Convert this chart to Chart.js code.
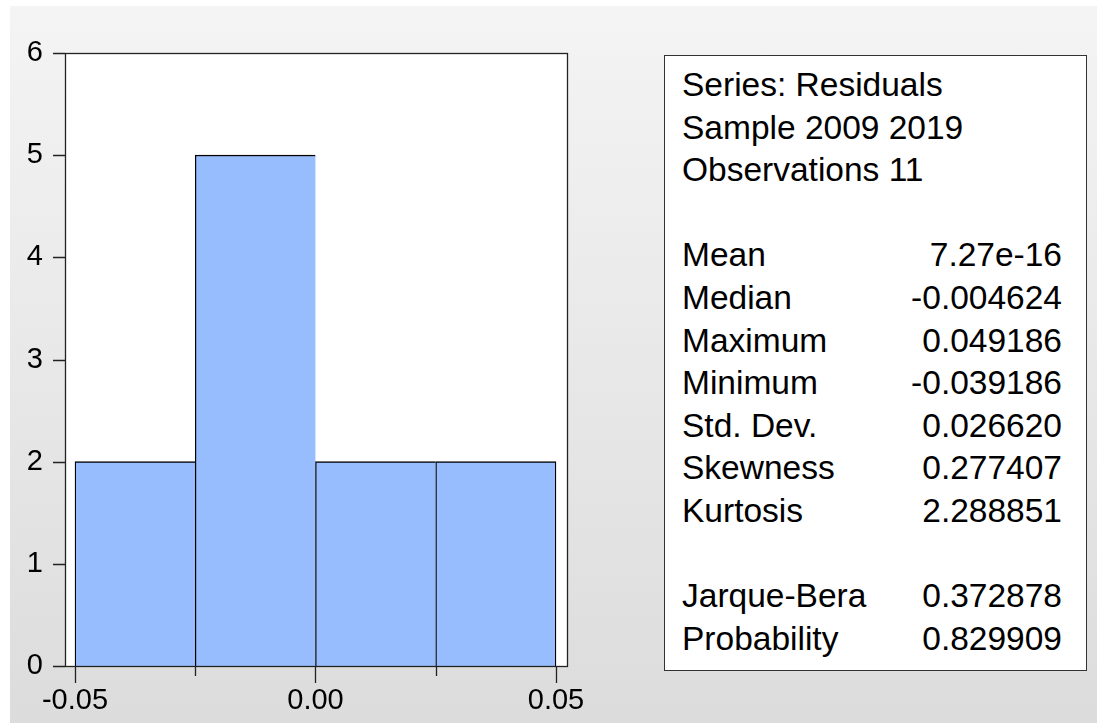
<!DOCTYPE html>
<html>
<head>
<meta charset="utf-8">
<script src="https://cdn.jsdelivr.net/npm/chart.js@4/dist/chart.umd.min.js"></script>
<style>
  html, body { margin: 0; padding: 0; background: #fff; }
  body { width: 1097px; height: 723px; position: relative; overflow: hidden; font-family: "Liberation Sans", Arial, sans-serif; }
  #panel { position: absolute; left: 10px; top: 6px; right: 0; bottom: 0; background: linear-gradient(#f4f4f4, #dcdcdc); }
  #chartWrap { position: absolute; left: 0; top: 0; width: 1097px; height: 723px; }
  #stats {
    position: absolute; left: 664px; top: 55px; width: 423px; height: 616px;
    box-sizing: border-box; border: 1px solid #333; background: #fff;
    padding: 8px 24px 0 17px; font-size: 33.5px; line-height: 42.6px; color: #000;
  }
  #stats .row { display: flex; justify-content: space-between; height: 42.6px; white-space: nowrap; }
</style>
</head>
<body>
<div id="panel"></div>
<div id="chartWrap"><canvas id="histChart"></canvas></div>
<div id="stats"></div>

<script>
// ==================== DATA ====================
const binCenters = [-0.0375, -0.0125, 0.0125, 0.0375];
const binCounts = [2, 5, 2, 2];
const xTickValues = [-0.05, 0.00, 0.05];
const xMinorTicks = [-0.025, 0.025];
const yMax = 6;

const headerLines = ['Series: Residuals', 'Sample 2009 2019', 'Observations 11'];
const statNames = ['Mean', 'Median', 'Maximum', 'Minimum', 'Std. Dev.', 'Skewness', 'Kurtosis'];
const statValues = ['7.27e-16', '-0.004624', '0.049186', '-0.039186', '0.026620', '0.277407', '2.288851'];
const testNames = ['Jarque-Bera', 'Probability'];
const testValues = ['0.372878', '0.829909'];

const FONT = "'Liberation Sans', Arial, sans-serif";

// ==================== STATS BOX ====================
function addRow(box, left, right) {
  const row = document.createElement('div');
  row.className = 'row';
  const a = document.createElement('span');
  a.textContent = left;
  const b = document.createElement('span');
  b.textContent = right;
  row.appendChild(a);
  row.appendChild(b);
  box.appendChild(row);
}

function buildStats() {
  const box = document.getElementById('stats');
  headerLines.forEach(line => addRow(box, line, ''));
  addRow(box, '', '');
  statNames.forEach((name, i) => addRow(box, name, statValues[i]));
  addRow(box, '', '');
  testNames.forEach((name, i) => addRow(box, name, testValues[i]));
}

// ==================== CHART ====================
const frameAndTicks = {
  id: 'frameAndTicks',
  beforeDraw(chart) {
    const { ctx, chartArea: a } = chart;
    ctx.save();
    ctx.fillStyle = '#fff';
    ctx.fillRect(a.left, a.top, a.right - a.left, a.bottom - a.top);
    ctx.restore();
  },
  afterDraw(chart) {
    const { ctx, chartArea: a, scales } = chart;
    const x = scales.x, y = scales.y;
    ctx.save();
    ctx.strokeStyle = '#222';
    ctx.lineWidth = 1.3;
    ctx.strokeRect(a.left + 0.5, a.top + 0.5, a.right - a.left, a.bottom - a.top);
    ctx.beginPath();
    y.ticks.forEach(t => {
      const py = Math.round(y.getPixelForValue(t.value)) + 0.5;
      ctx.moveTo(a.left - 12, py);
      ctx.lineTo(a.left, py);
    });
    xTickValues.forEach(v => {
      const px = Math.round(x.getPixelForValue(v)) + 0.5;
      ctx.moveTo(px, a.bottom);
      ctx.lineTo(px, a.bottom + 17);
    });
    xMinorTicks.forEach(v => {
      const px = Math.round(x.getPixelForValue(v)) + 0.5;
      ctx.moveTo(px, a.bottom);
      ctx.lineTo(px, a.bottom + 10);
    });
    ctx.stroke();
    ctx.restore();
  }
};

function renderChart() {
  const ctx = document.getElementById('histChart');
  new Chart(ctx, {
    type: 'bar',
    data: {
      datasets: [{
        data: binCenters.map((c, i) => ({ x: c, y: binCounts[i] })),
        backgroundColor: '#97bdfe',
        borderColor: '#000',
        borderWidth: c => ({ top: 1.3, left: 1.3, bottom: 0, right: c.dataIndex === binCounts.length - 1 ? 1.3 : 0 }),
        borderSkipped: false,
        barPercentage: 1,
        categoryPercentage: 1
      }]
    },
    options: {
      responsive: true,
      maintainAspectRatio: false,
      animation: false,
      devicePixelRatio: 1,
      layout: { padding: { left: 0, top: 53, right: 530, bottom: 7 } },
      plugins: { legend: { display: false }, tooltip: { enabled: false } },
      scales: {
        x: {
          type: 'linear',
          min: -0.05208,
          max: 0.05229,
          offset: false,
          grid: { display: false, drawTicks: false },
          border: { display: false },
          afterBuildTicks: s => { s.ticks = xTickValues.map(v => ({ value: v })); },
          afterFit: s => { s.height = 50; },
          ticks: {
            padding: 18,
            maxRotation: 0,
            autoSkip: false,
            color: '#000',
            font: { family: FONT, size: 29, lineHeight: 1.2 },
            callback: v => Number(v).toFixed(2)
          }
        },
        y: {
          min: 0,
          max: yMax,
          grid: { display: false, drawTicks: false },
          border: { display: false },
          afterFit: s => { s.width = 65; },
          ticks: {
            stepSize: 1,
            padding: 22,
            color: '#000',
            font: { family: FONT, size: 29, lineHeight: 1.2 }
          }
        }
      }
    },
    plugins: [frameAndTicks]
  });
}

document.addEventListener('DOMContentLoaded', () => {
  buildStats();
  renderChart();
});
</script>
</body>
</html>
